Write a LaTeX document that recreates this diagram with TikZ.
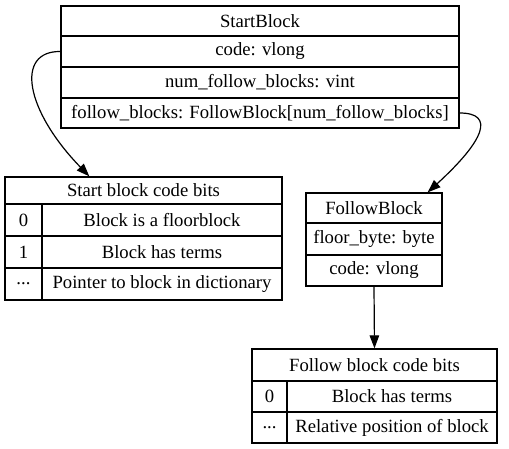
\documentclass[tikz,border=0pt]{standalone}
\usepackage{fontspec}
\setmainfont{Liberation Serif}
\usetikzlibrary{arrows.meta}
\tikzset{
  cellbox/.style={draw=black, line width=1.3pt, rectangle, inner sep=0pt, font=\fontsize{18.67}{22}\selectfont},
  link/.style={line width=1.2pt, -{Triangle[length=13pt,width=9.5pt]}}
}
\newcommand\mycell[6]{\node[cellbox, minimum width={(#4)-(#2)}, minimum height={(#5)-(#3)}] (#1) at ({((#2)+(#4))/2},{((#3)+(#5))/2}) {#6};}
\begin{document}
\begin{tikzpicture}[x=1pt,y=-1pt]
\useasboundingbox (0,0) rectangle (509,448);
% StartBlock
\mycell{sh}{61}{6}{459}{36}{StartBlock}
\mycell{sc}{61}{36}{459}{67}{code: vlong}
\mycell{sn}{61}{67}{459}{98}{num\_follow\_blocks: vint}
\mycell{sf}{61}{98}{459}{128}{follow\_blocks: FollowBlock[num\_follow\_blocks]}
% Start block code bits
\mycell{bh}{5}{177}{282}{204}{Start block code bits}
\mycell{ba}{5}{204}{42}{236}{0}
\mycell{bb}{42}{204}{282}{236}{Block is a floorblock}
\mycell{bc}{5}{236}{42}{268}{1}
\mycell{bd}{42}{236}{282}{268}{Block has terms}
\mycell{be}{5}{268}{42}{300}{...}
\mycell{bf}{42}{268}{282}{300}{Pointer to block in dictionary}
% FollowBlock
\mycell{fh}{306}{193}{442}{223}{FollowBlock}
\mycell{fb}{306}{223}{442}{255}{floor\_byte: byte}
\mycell{fc}{306}{255}{442}{286}{code: vlong}
% Follow block code bits
\mycell{gh}{252}{349}{497}{381}{Follow block code bits}
\mycell{ga}{252}{381}{287}{412}{0}
\mycell{gb}{287}{381}{497}{412}{Block has terms}
\mycell{gc}{252}{412}{287}{443}{...}
\mycell{gd}{287}{412}{497}{443}{Relative position of block}
% connectors
\draw[link] (sc.west) .. controls (15,51) and (25,110) .. ([xshift=85pt]bh.north west);
\draw[link] (sf.east) .. controls (495,113) and (485,140) .. ([xshift=-15pt]fh.north east);
\draw[link] (fc.south) -- (gh.north);
\end{tikzpicture}
\end{document}
